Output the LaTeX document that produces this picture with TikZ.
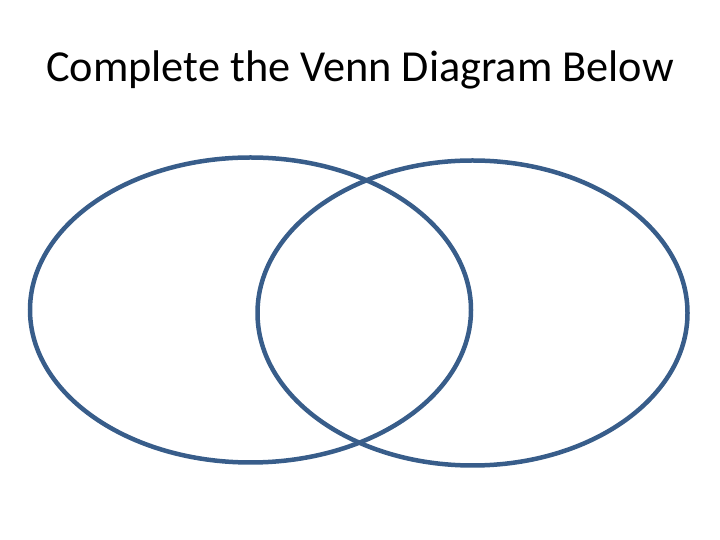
\documentclass[tikz,border=0pt]{standalone}
\usepackage{fontspec}
\setmainfont{Carlito}
\usetikzlibrary{shapes.geometric}
\definecolor{vennblue}{HTML}{385D8A}
\tikzset{vennset/.style={draw=vennblue,line width=4.5pt}}
\begin{document}
\begin{tikzpicture}[x=1pt,y=1pt]
  \useasboundingbox (0,0) rectangle (720,540);
  \node[font=\fontsize{44.3}{52}\selectfont] (title) at (360,470) {Complete the Venn Diagram Below};
  % two sets
  \node[vennset,ellipse,minimum width=441pt,minimum height=305pt,inner sep=0pt] (setA) at (250.5,230) {};
  \node[vennset,ellipse,minimum width=430pt,minimum height=305pt,inner sep=0pt] (setB) at (472.5,227) {};
\end{tikzpicture}
\end{document}
